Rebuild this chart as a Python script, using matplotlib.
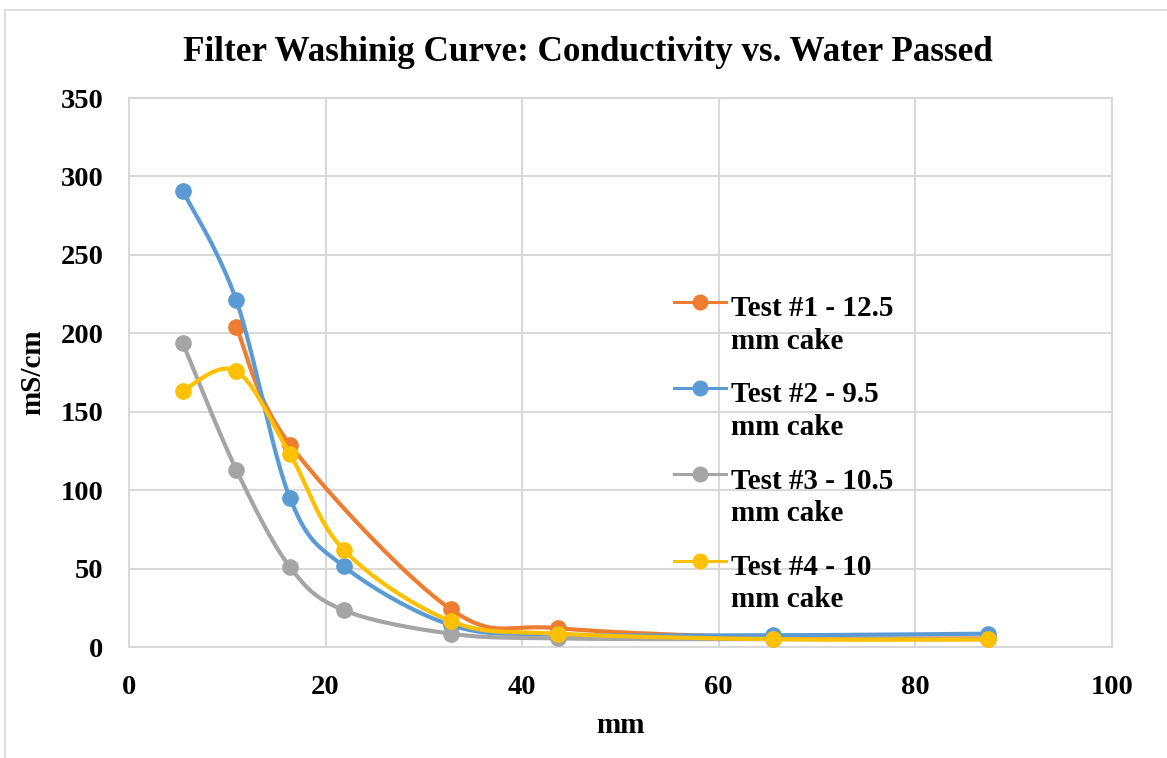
import numpy as np
import matplotlib
matplotlib.use('Agg')
import matplotlib.pyplot as plt
from matplotlib.patches import Rectangle
from matplotlib.legend_handler import HandlerLine2D

plt.rcParams['font.family'] = 'Liberation Serif'
plt.rcParams['font.weight'] = 'bold'

# water passed (mm) and conductivity (mS/cm) per test
x_all = [5.46, 10.92, 16.38, 21.84, 32.76, 43.68, 65.52, 87.36]
test1_x = [10.92, 16.38, 32.76, 43.68, 65.52, 87.36]
test1_y = [204, 129, 24, 12, 6, 5.5]
test2_y = [291, 221, 95, 51.5, 14, 8, 7.5, 8.5]
test3_y = [194, 113, 51, 23.5, 8.5, 5.5, 5, 5]
test4_y = [163.5, 176, 123, 62, 16.5, 8.5, 5, 4.8]

labels = ['Test #1 - 12.5\nmm cake', 'Test #2 - 9.5\nmm cake',
          'Test #3 - 10.5\nmm cake', 'Test #4 - 10\nmm cake']
colors = ['#ED7D31', '#5B9BD5', '#A5A5A5', '#FFC000']


def smooth(ax, xs, ys, n=40):
    # Excel-style smoothed line: Catmull-Rom bezier in display space
    pts = ax.transData.transform(np.column_stack([xs, ys]))
    out = []
    m = len(pts)
    for i in range(m - 1):
        p0 = pts[max(i - 1, 0)]
        p1 = pts[i]
        p2 = pts[i + 1]
        p3 = pts[min(i + 2, m - 1)]
        c1 = p1 + (p2 - p0) / 6.0
        c2 = p2 - (p3 - p1) / 6.0
        t = np.linspace(0, 1, n)[:, None]
        seg = ((1 - t) ** 3) * p1 + 3 * ((1 - t) ** 2) * t * c1 + 3 * (1 - t) * t ** 2 * c2 + t ** 3 * p2
        out.append(seg if i == 0 else seg[1:])
    out = np.vstack(out)
    return ax.transData.inverted().transform(out)


class FirstLineHandler(HandlerLine2D):
    # put the legend marker next to the first line of a two-line label
    def create_artists(self, legend, orig_handle, xdescent, ydescent, width, height, fontsize, trans):
        arts = super().create_artists(legend, orig_handle, xdescent, ydescent, width, height, fontsize, trans)
        for a in arts:
            a.set_ydata(np.asarray(a.get_ydata()) + 0.79 * fontsize)
        return arts


fig = plt.figure(figsize=(11.67, 7.58), dpi=100)
ax = fig.add_axes([0.1105, 0.1464, 0.8423, 0.7243])
ax.set_xlim(0, 100)
ax.set_ylim(0, 350)

series = [(test1_x, test1_y), (x_all, test2_y), (x_all, test3_y), (x_all, test4_y)]
handles = []
for (xs, ys), c, lab in zip(series, colors, labels):
    sm = smooth(ax, xs, ys)
    ax.plot(sm[:, 0], sm[:, 1], color=c, lw=3.0, solid_capstyle='round', zorder=3)
    ax.plot(xs, ys, 'o', color=c, ms=11, zorder=3)
    h2, = ax.plot([], [], '-o', color=c, lw=2.2, ms=10.5, label=lab)
    handles.append(h2)

ax.set_xticks([0, 20, 40, 60, 80, 100])
ax.set_yticks(np.arange(0, 351, 50))
ax.grid(True, color='#d9d9d9', lw=1.5, zorder=0)
ax.set_axisbelow(True)
for s in ax.spines.values():
    s.set_color('#d9d9d9')
    s.set_linewidth(1.5)
ax.tick_params(length=0, labelsize=20.5)
ax.tick_params(axis='x', pad=20)
ax.tick_params(axis='y', pad=18.5)

ax.set_xlabel('mm', fontsize=21, fontweight='bold', labelpad=8.5)
ax.set_ylabel('mS/cm', fontsize=21, fontweight='bold', labelpad=10)
fig.suptitle('Filter Washinig Curve: Conductivity vs. Water Passed', fontsize=25.3,
             fontweight='bold', x=0.504, y=0.952)

leg = ax.legend(handles=handles, loc='upper left', bbox_to_anchor=(0.555, 0.6405),
                frameon=False, fontsize=21, handlelength=1.75, handletextpad=0.2,
                labelspacing=0.92, borderpad=0, borderaxespad=0,
                handler_map={matplotlib.lines.Line2D: FirstLineHandler()})
for t in leg.get_texts():
    t.set_linespacing(1.25)

fig.add_artist(Rectangle((5 / 1167, -0.05), 1.1, (758 - 10) / 758 + 0.05,
                         transform=fig.transFigure, fill=False,
                         edgecolor='#d9d9d9', lw=1.2))

fig.savefig('out.png', dpi=100)
